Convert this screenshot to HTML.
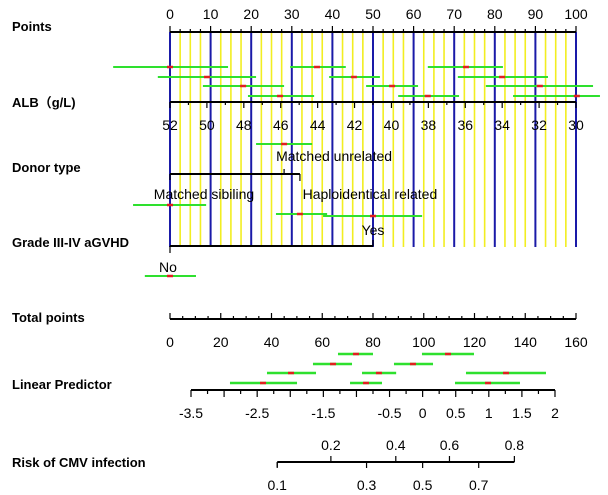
<!DOCTYPE html>
<html><head><meta charset="utf-8"><style>
body{margin:0;background:#fff}
svg{display:block;font-family:"Liberation Sans","Noto Sans CJK SC",sans-serif}
.lab{font-weight:bold;font-size:13px}
.t{font-size:14px}
</style></head><body>
<svg id="c" width="608" height="495"></svg>
<script>
const pointsTicks=[0,10,20,30,40,50,60,70,80,90,100];
const albTicks=[52,50,48,46,44,42,40,38,36,34,32,30];
const totalTicks=[0,20,40,60,80,100,120,140,160];
const lpTicks=[-3.5,-2.5,-1.5,-0.5,0,0.5,1,1.5,2];
const riskUpper=[0.2,0.4,0.6,0.8];
const riskLower=[0.1,0.3,0.5,0.7];
// CI segments [lo, mid, hi] in points units
const albCI=[
 [[-14,0,14.3],[29.6,36.2,43.3],[63.5,72.9,82]],
 [[-3,9.1,21.2],[39.2,45.3,51.7],[70.9,81.8,93.1]],
 [[8.1,18,28.1],[48.3,54.7,61.1],[77.8,91.1,104.2]],
 [[19.2,27.1,35.5],[56.2,63.5,71.2],[84.5,100.2,105.9]]];
const donorUnrelCI=[21.2,28.1,35.0];
const donorSibCI=[-9.1,0,8.9];
const donorHaploCI=[26.1,32,38.7];
const gvhdYesCI=[37.7,50,62.1];
const gvhdNoCI=[-6.2,0,6.4];
const donorPoints=[0,28.1,32];
const gvhdPoints=[0,50];
// CI segments in linear predictor units
const lpCI=[
 [[-1.279,-1.007,-0.75],[-0.01,0.383,0.776]],
 [[-1.657,-1.354,-1.067],[-0.433,-0.146,0.157]],
 [[-2.352,-1.989,-1.611],[-0.916,-0.66,-0.4],[0.655,1.26,1.864]],
 [[-2.911,-2.412,-1.898],[-1.097,-0.856,-0.614],[0.489,0.988,1.471]]];

const svg=document.getElementById('c');const NS='http://www.w3.org/2000/svg';
function el(t,a,name,txt){const e=document.createElementNS(NS,t);for(const k in a)e.setAttribute(k,a[k]);


if(txt!==undefined)e.textContent=txt;svg.appendChild(e);return e;}
const px=p=>170+p*4.06;
const albX=v=>px((52-v)/22*100);
const totX=v=>170+v*(406/160);
const lpX=v=>191+(v+3.5)*66.18;
const riskX=p=>lpX(Math.log(p/(1-p)));
function line(x1,y1,x2,y2,c,w,n){return el('line',{x1,y1,x2,y2,stroke:c,'stroke-width':w},n);}
function text(x,y,s,n,anchor,cls){return el('text',{x,y,'text-anchor':anchor||'middle',class:cls||'t'},n,s);}
for(let p=0;p<=100;p+=2.5){const major=p%10===0;
 line(px(p),32,px(p),247,major?'#1a1aa8':'#f2ee20',major?2:1.6,major?'grid-blue':'grid-yellow');}
line(px(0),32,px(100),32,'#000',2,'points-axis');
for(let p=0;p<=100;p+=2.5){line(px(p),32,px(p),p%10===0?26:29,'#000',1.2,'points-tick');}
pointsTicks.forEach(v=>text(px(v),19,v,'points-tick-label'));
line(px(0),102,px(100),102,'#000',2,'alb-axis');
for(let v=52;v>=30;v--){line(albX(v),102,albX(v),v%2===0?108:105,'#000',1.2,'alb-tick');}
albTicks.forEach(v=>text(albX(v),130,v,'alb-tick-label'));
function ci(c,y,n){line(px(c[0]),y,px(c[2]),y,'#2ee02e',2,n);line(px(c[1])-3,y,px(c[1])+3,y,'#e02020',2.5,n+'-point');}
const rowsY=[67,77,86,96];
albCI.forEach((r,i)=>r.forEach(c=>ci(c,rowsY[i],'alb-ci')));
line(px(0),174,px(donorPoints[2]),174,'#000',2,'donor-axis');
line(px(donorPoints[1]),174,px(donorPoints[1]),169,'#000',1.2,'donor-tick-unrelated');
line(px(donorPoints[2]),174,px(donorPoints[2]),181,'#000',1.2,'donor-tick-haplo');
line(px(0),174,px(0),180,'#000',1.2,'donor-tick-sibling');
text(px(donorPoints[1])+50,161,'Matched unrelated','donor-label-unrelated');
text(px(0)+34,199,'Matched sibiling','donor-label-sibling');
text(px(donorPoints[2])+70,199,'Haploidentical related','donor-label-haplo');
ci(donorUnrelCI,144,'donor-unrelated-ci');ci(donorSibCI,205,'donor-sibling-ci');ci(donorHaploCI,214,'donor-haplo-ci');
line(px(0),246,px(gvhdPoints[1]),246,'#000',2,'gvhd-axis');
line(px(0),246,px(0),253,'#000',1.2,'gvhd-tick-no');
line(px(gvhdPoints[1]),246,px(gvhdPoints[1]),240,'#000',1.2,'gvhd-tick-yes');
text(px(gvhdPoints[1]),235,'Yes','gvhd-label-yes');text(px(0)-2,272,'No','gvhd-label-no');
ci(gvhdYesCI,216,'gvhd-yes-ci');ci(gvhdNoCI,276,'gvhd-no-ci');
line(totX(0),319,totX(160),319,'#000',2,'total-axis');
for(let v=0;v<=160;v+=5)line(totX(v),319,totX(v),v%20===0?313:316,'#000',1.2,'total-tick');
totalTicks.forEach(v=>text(totX(v),347,v,'total-tick-label'));
line(lpX(-3.5),390,lpX(2),390,'#000',2,'lp-axis');
for(let v=-3.5;v<=2.001;v+=0.25)line(lpX(v),390,lpX(v),Math.abs((v*2)%1)<0.01?397:394,'#000',1.2,'lp-tick');
lpTicks.forEach(v=>text(lpX(v),418,v,'lp-tick-label'));
const lpY=[354,364,373,383];
lpCI.forEach((r,i)=>r.forEach(c=>{line(lpX(c[0]),lpY[i],lpX(c[2]),lpY[i],'#2ee02e',2.5,'lp-ci');line(lpX(c[1])-3,lpY[i],lpX(c[1])+3,lpY[i],'#e02020',2.5,'lp-ci-point');}));
line(riskX(0.1),462,riskX(0.8),462,'#000',2,'risk-axis');
line(riskX(0.1),462,riskX(0.1),467,'#000',1.2,'risk-tick');
riskUpper.forEach(v=>{line(riskX(v),462,riskX(v),456,'#000',1.2,'risk-tick-upper');text(riskX(v),450,v,'risk-label-upper');});
riskLower.forEach(v=>{line(riskX(v),462,riskX(v),468,'#000',1.2,'risk-tick-lower');text(riskX(v),490,v,'risk-label-lower');});
[['Points',31],['ALB（g/L)',107],['Donor type',172],['Grade III-IV aGVHD',247],['Total points',322],['Linear Predictor',389],['Risk of CMV infection',467]]
.forEach(([s,y])=>text(12,y,s,'row-label','start','lab'));
</script>
</body></html>
